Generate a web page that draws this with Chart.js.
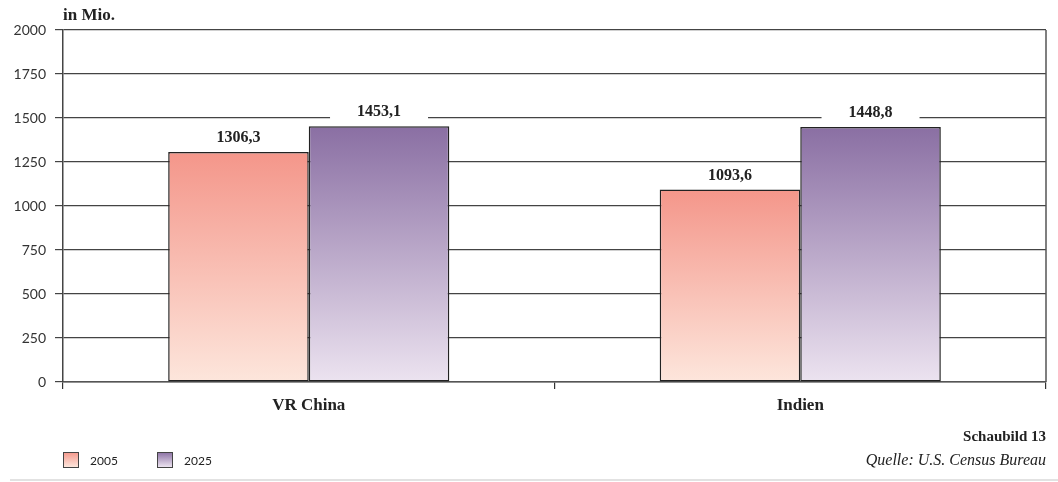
<!DOCTYPE html>
<html>
<head>
<meta charset="utf-8">
<script src="https://cdn.jsdelivr.net/npm/chart.js@4/dist/chart.umd.min.js"></script>
<style>
  html, body { margin: 0; padding: 0; background: #fff; }
  #wrap { width: 1058px; height: 482px; position: relative; }
</style>
</head>
<body>
<div id="wrap"><canvas id="grafico" width="1058" height="482"></canvas></div>
<script>
// Bevölkerung in Mio.
const laender = ['VR China', 'Indien'];
const jahre = ['2005', '2025'];
const werte2005 = [1306.3, 1093.6];
const werte2025 = [1453.1, 1448.8];
const yTicks = [0, 250, 500, 750, 1000, 1250, 1500, 1750, 2000];

const farben = {
    '2005': ['#f4968a', '#fde6dc'],
    '2025': ['#8a6fa3', '#ece3f0']
};

const serif = '"Liberation Serif", "DejaVu Serif", serif';
const sans = 'Lato, "Open Sans", sans-serif';

function balkenVerlauf(jahr) {
    return function(context) {
        const chart = context.chart;
        const area = chart.chartArea;
        if (!area || context.parsed === undefined) return farben[jahr][0];
        const y = chart.scales.y.getPixelForValue(context.parsed.y);
        const g = chart.ctx.createLinearGradient(0, y, 0, area.bottom);
        g.addColorStop(0, farben[jahr][0]);
        g.addColorStop(1, farben[jahr][1]);
        return g;
    };
}

function formatWert(v) {
    return v.toFixed(1).replace('.', ',');
}

// Werte über den Balken, mit weißem Hintergrund über den Gitterlinien
const wertBeschriftung = {
    id: 'wertBeschriftung',
    afterDatasetsDraw(chart) {
        const ctx = chart.ctx;
        ctx.save();
        ctx.font = 'bold 16px ' + serif;
        ctx.textAlign = 'center';
        ctx.textBaseline = 'middle';
        chart.data.datasets.forEach((ds, i) => {
            chart.getDatasetMeta(i).data.forEach((bar, j) => {
                const text = formatWert(ds.data[j]);
                const w = ctx.measureText(text).width;
                const cy = bar.y - 14;
                ctx.fillStyle = '#fff';
                ctx.fillRect(bar.x - w / 2 - 27, cy - 9, w + 54, 16);
                ctx.fillStyle = '#222';
                ctx.fillText(text, bar.x, cy);
            });
        });
        ctx.restore();
    }
};

// Einheit, Legende, Quelle und Rahmen
const zusatz = {
    id: 'zusatz',
    afterDraw(chart) {
        const ctx = chart.ctx;
        const area = chart.chartArea;
        ctx.save();

        // rechte Begrenzung
        ctx.strokeStyle = '#555';
        ctx.lineWidth = 1.5;
        ctx.beginPath();
        ctx.moveTo(area.right, area.top);
        ctx.lineTo(area.right, area.bottom);
        ctx.stroke();

        ctx.fillStyle = '#222';
        ctx.font = 'bold 17px ' + serif;
        ctx.textAlign = 'left';
        ctx.textBaseline = 'middle';
        ctx.fillText('in Mio.', area.left, 16);

        // Legende
        let x = area.left;
        jahre.forEach((jahr) => {
            const g = ctx.createLinearGradient(0, 452, 0, 467);
            g.addColorStop(0, farben[jahr][0]);
            g.addColorStop(1, farben[jahr][1]);
            ctx.fillStyle = g;
            ctx.fillRect(x, 452, 15, 15);
            ctx.strokeStyle = '#444';
            ctx.lineWidth = 1;
            ctx.strokeRect(x + 0.5, 452.5, 15, 15);
            ctx.fillStyle = '#222';
            ctx.font = '12px ' + sans;
            ctx.fillText(jahr, x + 27, 461);
            x += 94;
        });

        ctx.textAlign = 'right';
        ctx.font = 'bold 15px ' + serif;
        ctx.fillText('Schaubild 13', area.right, 437);
        ctx.font = 'italic 16px ' + serif;
        ctx.fillText('Quelle: U.S. Census Bureau', area.right, 461);

        ctx.fillStyle = '#e2e2e2';
        ctx.fillRect(10, 479, 1048, 2);
        ctx.restore();
    }
};

new Chart(document.getElementById('grafico').getContext('2d'), {
    type: 'bar',
    data: {
        labels: laender,
        datasets: [
            {
                label: jahre[0],
                data: werte2005,
                backgroundColor: balkenVerlauf('2005'),
                borderColor: '#222',
                borderWidth: 1.5,
                borderSkipped: false
            },
            {
                label: jahre[1],
                data: werte2025,
                backgroundColor: balkenVerlauf('2025'),
                borderColor: '#222',
                borderWidth: 1.5,
                borderSkipped: false
            }
        ]
    },
    options: {
        responsive: false,
        animation: false,
        events: [],
        layout: { padding: { left: 0, right: 12, top: 30, bottom: 0 } },
        datasets: { bar: { categoryPercentage: 0.572, barPercentage: 1.0 } },
        plugins: {
            legend: { display: false },
            tooltip: { enabled: false }
        },
        scales: {
            x: {
                offset: true,
                grid: {
                    offset: true,
                    drawOnChartArea: false,
                    color: '#333',
                    tickLength: 7,
                    lineWidth: 1.2
                },
                border: { color: '#555', width: 1.5 },
                ticks: {
                    color: '#222',
                    font: { family: serif, size: 17, weight: 'bold' },
                    padding: 6
                },
                afterFit(scale) { scale.height = 100; }
            },
            y: {
                min: 0,
                max: 2000,
                afterBuildTicks(scale) {
                    scale.ticks = yTicks.map(v => ({ value: v }));
                },
                grid: {
                    color: '#444',
                    lineWidth: 1.2,
                    tickLength: 8
                },
                border: { color: '#444', width: 1.5 },
                ticks: {
                    color: '#333',
                    font: { family: sans, size: 14 },
                    padding: 9,
                    callback: (v) => String(v)
                },
                afterFit(scale) { scale.width = 63; }
            }
        }
    },
    plugins: [wertBeschriftung, zusatz]
});
</script>
</body>
</html>
